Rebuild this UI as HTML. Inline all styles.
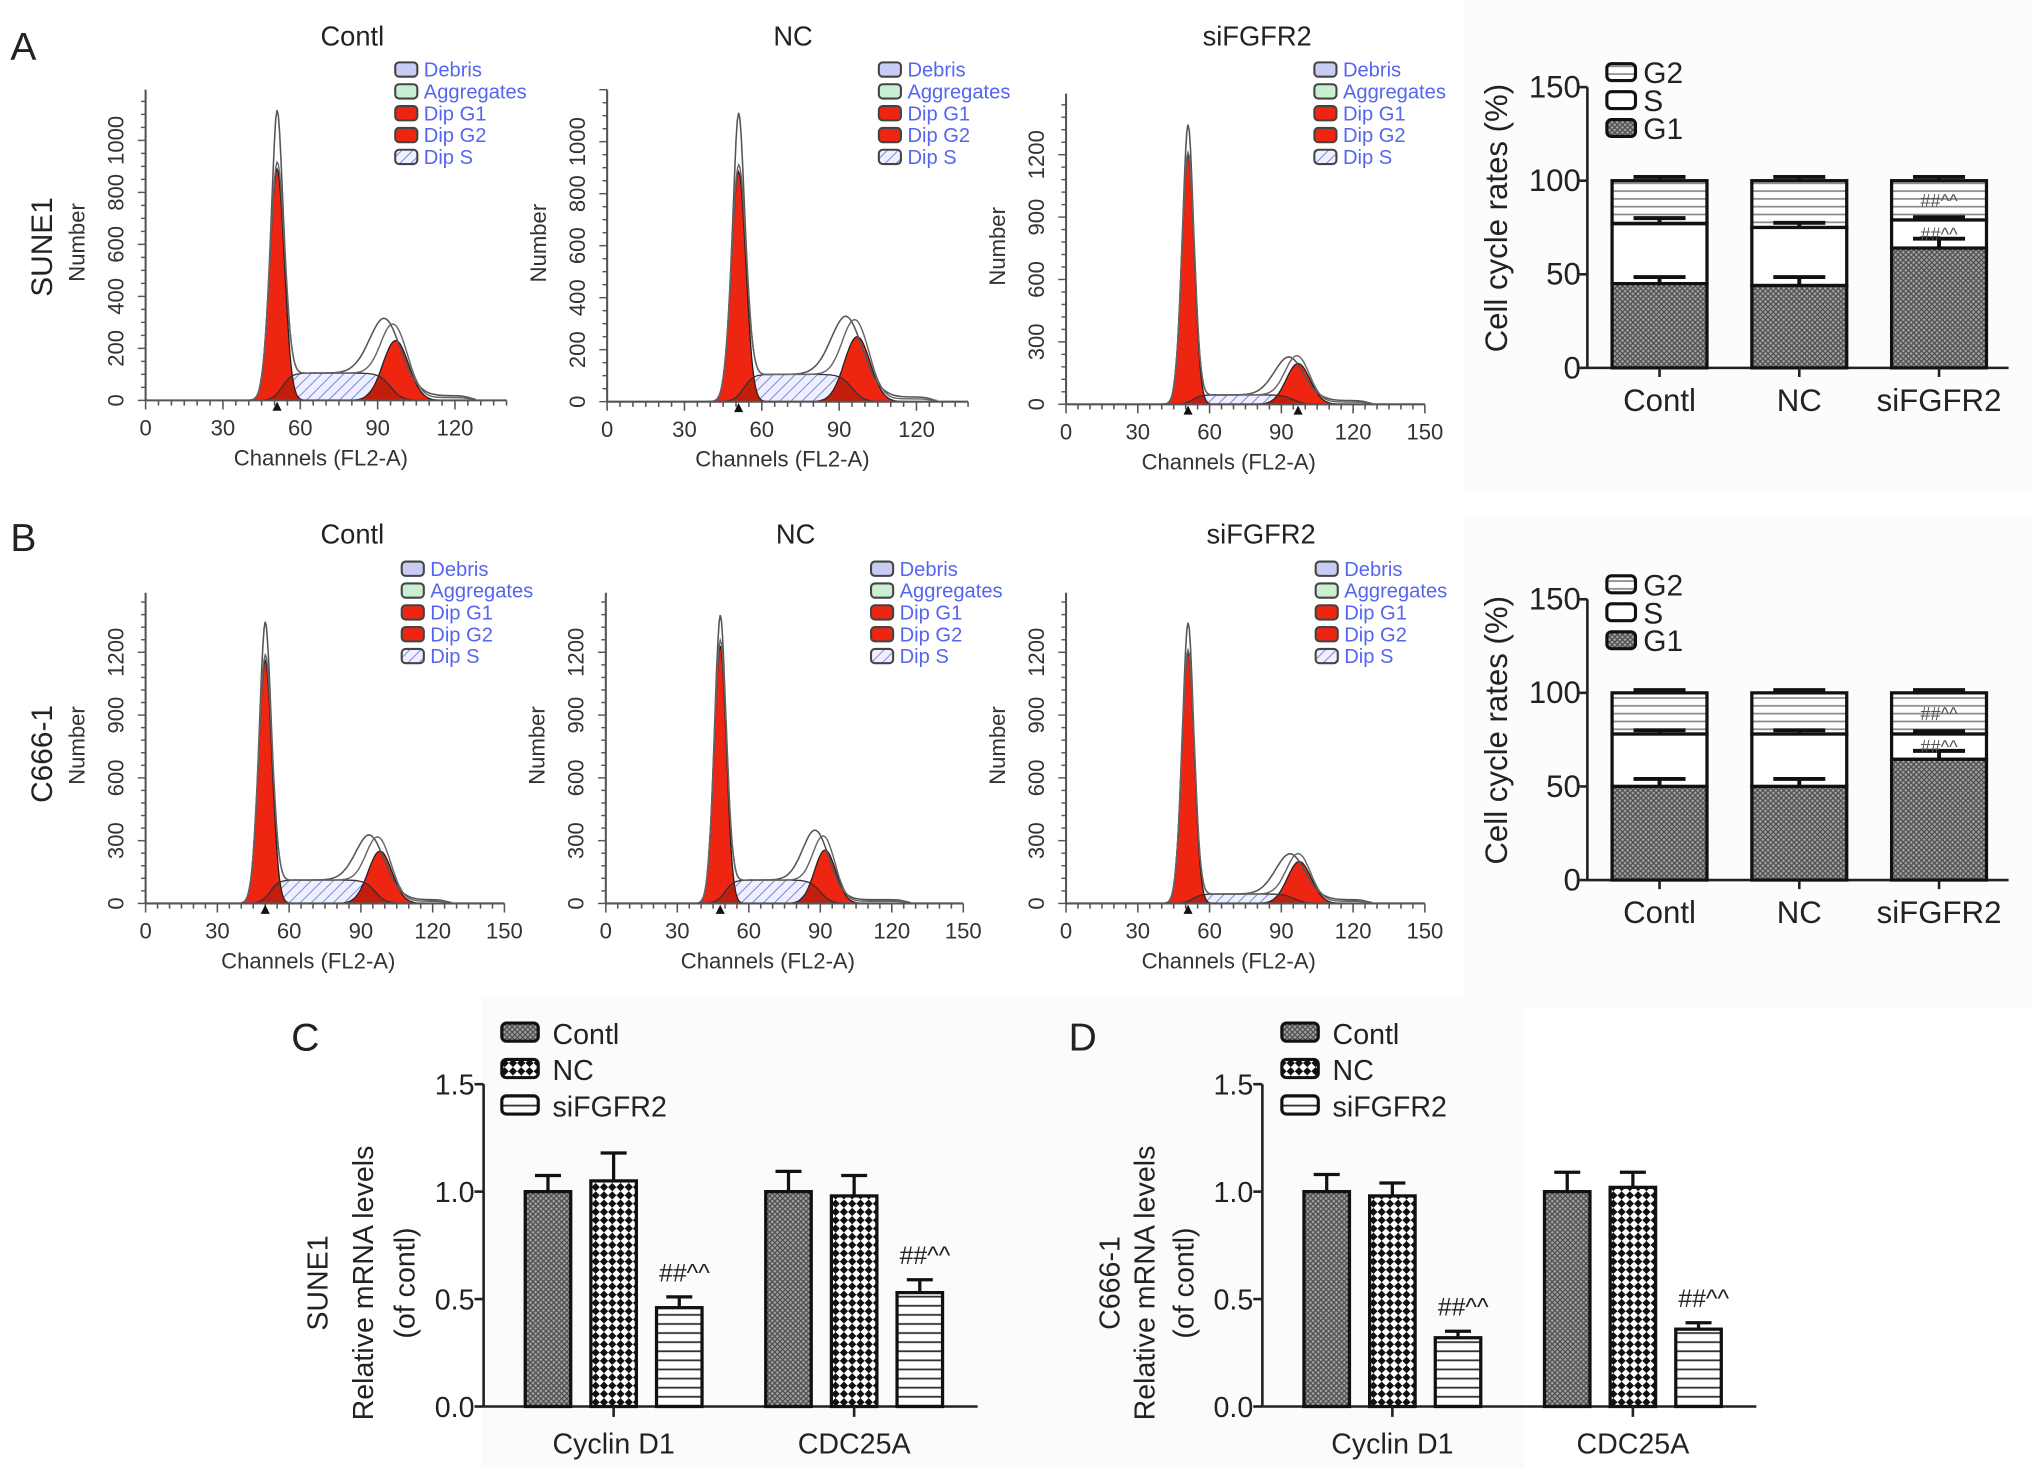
<!DOCTYPE html>
<html><head><meta charset="utf-8"><style>
html,body{margin:0;padding:0;background:#fff}
svg{display:block}
text{font-family:"Liberation Sans",Arial,sans-serif}
</style></head><body>
<svg id="fig" width="2032" height="1478" viewBox="0 0 1563 1137" preserveAspectRatio="none" xmlns="http://www.w3.org/2000/svg">
<defs>
<pattern id="pG1" width="4" height="4" patternUnits="userSpaceOnUse"><rect width="4" height="4" fill="#a0a0a0"/><path d="M0,0L4,4M4,0L0,4" stroke="#4a4a4a" stroke-width="0.9"/></pattern>
<pattern id="pNC" width="9" height="9" patternUnits="userSpaceOnUse" patternTransform="rotate(45)"><rect width="9" height="9" fill="#fff"/><rect width="4.5" height="4.5" fill="#111"/><rect x="4.5" y="4.5" width="4.5" height="4.5" fill="#111"/></pattern>
<pattern id="pStripe" width="8" height="7" patternUnits="userSpaceOnUse"><rect width="8" height="7" fill="#fff"/><line x1="0" y1="3.5" x2="8" y2="3.5" stroke="#333" stroke-width="1.4"/></pattern>
<pattern id="pStripeG" width="8" height="6" patternUnits="userSpaceOnUse"><rect width="8" height="6" fill="#fff"/><line x1="0" y1="3" x2="8" y2="3" stroke="#888" stroke-width="1.3"/></pattern>
<pattern id="pS" width="6" height="6" patternUnits="userSpaceOnUse" patternTransform="rotate(45)"><rect width="6" height="6" fill="#eef0ff"/><line x1="0" y1="0" x2="0" y2="6" stroke="#6874d8" stroke-width="1.3"/></pattern>
</defs>
<rect x="1125" y="0" width="438" height="378" fill="#fcfcfc"/>
<rect x="1125" y="395" width="438" height="380" fill="#fcfcfc"/>
<rect x="370" y="768" width="402" height="362" fill="#fbfbfb"/>
<rect x="772" y="768" width="400" height="362" fill="#fbfbfb"/>
</svg>
<script>
// ---------- histogram data (cell-cycle flow cytometry) ----------
const histTitles=['Contl','NC','siFGFR2','Contl','NC','siFGFR2'];
const g1Channel=[51,51,51,50,48,51];
const g1Fit=[890,885,1200,1160,1230,1200];
const g1Raw=[1090,1085,1333,1318,1350,1330];
const g1Width=[2.8,2.8,2.6,2.8,2.6,2.6];
const g2Channel=[97,97,97,98,92,97.5];
const g2Fit=[230,250,196,250,255,200];
const g2Raw=[295,308,220,305,330,230];
const g2Width=[5,5,5,5,4.5,5];
const sLevel=[105,105,45,112,112,45];
const xTicksA=[0,30,60,90,120];
const xTicksB=[0,30,60,90,120,150];
const yTicksA=[0,200,400,600,800,1000];
const yTicksB=[0,300,600,900,1200];
const legendItems=['Debris','Aggregates','Dip G1','Dip G2','Dip S'];
// ---------- stacked cell-cycle bars ----------
const groups=['Contl','NC','siFGFR2'];
const phases=['G2','S','G1'];
const aG1=[45,44,64], aS=[32,31,15], aG2=[23,25,21];
const aG1Err=[3.5,4.5,5], aSErr=[3,2.5,1.5], aG2Err=[2,2,2];
const bG1=[50,50,64.5], bS=[28,28,13.5], bG2=[22,22,22];
const bG1Err=[4,4,4.5], bSErr=[2,2,1.5], bG2Err=[1.5,1.5,1.5];
const stackTicks=[0,50,100,150];
// ---------- mRNA bars ----------
const genes=['Cyclin D1','CDC25A'];
const sune1Contl=[1.0,1.0], sune1NC=[1.05,0.98], sune1Si=[0.46,0.53];
const sune1ContlErr=[0.075,0.094], sune1NCErr=[0.13,0.095], sune1SiErr=[0.05,0.06];
const c666Contl=[1.0,1.0], c666NC=[0.98,1.02], c666Si=[0.32,0.36];
const c666ContlErr=[0.08,0.09], c666NCErr=[0.06,0.07], c666SiErr=[0.03,0.03];
const mrnaTicks=['0.0','0.5','1.0','1.5'];

const NS='http://www.w3.org/2000/svg';
const svg=document.getElementById('fig');
function mk(tag,attrs,parent){const e=document.createElementNS(NS,tag);for(const k in attrs)e.setAttribute(k,attrs[k]);(parent||svg).appendChild(e);return e;}
function nm(e,n){
  
  
  return e;
}
function tx(x,y,s,size,extra){const e=mk('text',Object.assign({x:x,y:y,'font-size':size,fill:'#222'},extra||{}));e.textContent=s;return e;}
function rtext(x,y,s,size,extra){const e=tx(0,0,s,size,Object.assign({'text-anchor':'middle',transform:'translate('+x+','+y+') rotate(-90)'},extra||{}));return e;}

nm(tx(8,46,'A',30),'panel-label-a');
nm(tx(8,424,'B',30),'panel-label-b');
nm(tx(224,808,'C',30),'panel-label-c');
nm(tx(822,808,'D',30),'panel-label-d');
nm(rtext(32,190,'SUNE1',23,{dy:8}),'cell-line-label-sune1');
nm(rtext(32,580,'C666-1',23,{dy:8}),'cell-line-label-c666');

const H=[
{ox:112,oy:308,ppc:1.983,xmax:140,xt:xTicksA,yt:yTicksA,ppn:0.2,ymin:50,ytop:69,tx:271,ty:27,lx:304,ly:54,tri2:false},
{ox:467,oy:309,ppc:1.983,xmax:140,xt:xTicksA,yt:yTicksA,ppn:0.2,ymin:50,ytop:69,tx:610,ty:27,lx:676,ly:54,tri2:false},
{ox:820,oy:311,ppc:1.84,xmax:150,xt:xTicksB,yt:yTicksB,ppn:0.16,ymin:60,ytop:72,tx:967,ty:27,lx:1011,ly:54,tri2:true},
{ox:112,oy:695,ppc:1.84,xmax:150,xt:xTicksB,yt:yTicksB,ppn:0.161,ymin:60,ytop:456,tx:271,ty:410,lx:309,ly:438,tri2:false},
{ox:466,oy:695,ppc:1.833,xmax:150,xt:xTicksB,yt:yTicksB,ppn:0.161,ymin:60,ytop:456,tx:612,ty:410,lx:670,ly:438,tri2:false},
{ox:820,oy:695,ppc:1.84,xmax:150,xt:xTicksB,yt:yTicksB,ppn:0.161,ymin:60,ytop:456,tx:970,ty:410,lx:1012,ly:438,tri2:false}];

function gauss(c,mu,h,sd){return h*Math.exp(-0.5*((c-mu)/sd)*((c-mu)/sd));}
function sig(z){return 1/(1+Math.exp(-z));}

H.forEach((p,k)=>{
  const g=nm(mk('g',{}),'histogram-'+(k<3?'sune1':'c666')+'-'+histTitles[k].toLowerCase());
  const X=c=>p.ox+c*p.ppc, Y=n=>p.oy-n*p.ppn;
  const m1=g1Channel[k], m2=g2Channel[k];
  const S=c=>sLevel[k]*sig((c-m1-2)/1.8)*sig((m2-2-c)/2.2);
  const G1=c=>gauss(c,m1,g1Fit[k],g1Width[k]);
  const G2=c=>gauss(c,m2,g2Fit[k],g2Width[k]);
  const cs=[];for(let c=32;c<=128;c+=0.5)cs.push(c);
  const poly=f=>{let pts=[X(cs[0])+','+p.oy];cs.forEach(c=>pts.push(X(c).toFixed(1)+','+Y(f(c)).toFixed(1)));pts.push(X(cs[cs.length-1])+','+p.oy);return pts.join(' ');};
  nm(mk('polygon',{points:poly(S),fill:'url(#pS)',stroke:'none'},g),'dip-s-area');
  nm(mk('polygon',{points:poly(G1),fill:'#ee2510',stroke:'#222','stroke-width':1},g),'dip-g1-peak');
  nm(mk('polygon',{points:poly(G2),fill:'#ee2510',stroke:'#222','stroke-width':1},g),'dip-g2-peak');
  nm(mk('polygon',{points:poly(c=>Math.min(S(c),G1(c))),fill:'#8a160c','fill-opacity':0.45},g),'g1-s-overlap');
  nm(mk('polygon',{points:poly(c=>Math.min(S(c),G2(c))),fill:'#8a160c','fill-opacity':0.45},g),'g2-s-overlap');
  const line=f=>cs.map((c,i)=>(i?'L':'M')+X(c).toFixed(1)+','+Y(f(c)).toFixed(1)).join('');
  nm(mk('path',{d:line(S),fill:'none',stroke:'#333','stroke-width':1},g),'dip-s-curve');
  const tail=c=>18*sig((c-m2-8)/2)*sig((126-c)/1.5);
  const raw=c=>S(c)+gauss(c,m1,g1Fit[k],g1Width[k])+gauss(c,m1,g1Raw[k]-g1Fit[k],g1Width[k]*0.5)+gauss(c,m2-3,g2Raw[k]-sLevel[k]*0.5,g2Width[k]*1.3)+tail(c);
  const fitSum=c=>S(c)+G1(c)+G2(c)*1.12+tail(c)*0.6;
  nm(mk('path',{d:line(raw),fill:'none',stroke:'#555','stroke-width':1.2},g),'raw-histogram-outline');
  nm(mk('path',{d:line(fitSum),fill:'none',stroke:'#666','stroke-width':1.1},g),'model-fit-outline');
  nm(mk('line',{x1:p.ox,y1:p.oy,x2:X(p.xmax),y2:p.oy,stroke:'#555','stroke-width':1.6},g),'x-axis');
  nm(mk('line',{x1:p.ox,y1:p.oy,x2:p.ox,y2:p.ytop,stroke:'#555','stroke-width':1.6},g),'y-axis');
  for(let c=0;c<=p.xmax;c+=5){mk('line',{x1:X(c),y1:p.oy,x2:X(c),y2:p.oy+(c%30===0?7:4),stroke:'#555','stroke-width':1.2},g);}
  p.xt.forEach(v=>nm(tx(X(v),p.oy+27,String(v),17,{'text-anchor':'middle',fill:'#333'}),'x-tick-label'));
  const ymaxN=(p.oy-p.ytop)/p.ppn;
  for(let n=0;n<=ymaxN;n+=p.ymin){mk('line',{x1:p.ox,y1:Y(n),x2:p.ox-(n%(p.yt[1])===0?6:3.5),y2:Y(n),stroke:'#555','stroke-width':1.1},g);}
  p.yt.forEach(v=>nm(rtext(p.ox-17,Y(v),String(v),17,{fill:'#333'}),'y-tick-label'));
  nm(rtext(p.ox-47,(p.oy+p.ytop)/2-2,'Number',17,{fill:'#333'}),'y-axis-title');
  nm(tx(X(68),p.oy+50,'Channels (FL2-A)',17,{'text-anchor':'middle',fill:'#333'}),'x-axis-title');
  nm(tx(p.tx,p.ty+8,histTitles[k],21,{'text-anchor':'middle'}),'histogram-title');
  const tris=[m1];if(p.tri2)tris.push(m2);
  tris.forEach(c=>nm(mk('polygon',{points:(X(c)-3.5)+','+(p.oy+8)+' '+(X(c)+3.5)+','+(p.oy+8)+' '+X(c)+','+(p.oy+1),fill:'#111'},g),'peak-marker'));
  const fills=['#c8cbf2','#c9efd2','#ee2510','#ee2510','url(#pS)'];
  legendItems.forEach((s,i)=>{
    const y=p.ly+i*16.8;
    nm(mk('rect',{x:p.lx,y:y-6,width:17,height:11,rx:3,fill:fills[i],stroke:'#444','stroke-width':1.6},g),'legend-swatch');
    nm(tx(p.lx+22,y+5,s,15.5,{fill:'#5566ee'}),'legend-entry');
  });
});

function stacked(oy,G1v,Sv,G2v,G1e,Se,G2e,tag){
  const g=nm(mk('g',{}),'cell-cycle-stacked-chart-'+tag);
  const ox=1221,pp=1.44,Y=v=>oy-v*pp;
  nm(mk('line',{x1:ox,y1:oy,x2:1545,y2:oy,stroke:'#222','stroke-width':2},g),'x-axis');
  nm(mk('line',{x1:ox,y1:oy,x2:ox,y2:Y(150),stroke:'#222','stroke-width':2},g),'y-axis');
  stackTicks.forEach(v=>{mk('line',{x1:ox-6,y1:Y(v),x2:ox,y2:Y(v),stroke:'#222','stroke-width':2},g);nm(tx(ox-5,Y(v)+8,String(v),24,{'text-anchor':'end'}),'y-tick-label');});
  nm(rtext(1159,Y(80),'Cell cycle rates (%)',24),'y-axis-title');
  groups.forEach((gr,i)=>{
    const x=1240+i*107.5,w=73,cx=x+w/2;
    const t1=G1v[i],t2=G1v[i]+Sv[i],t3=G1v[i]+Sv[i]+G2v[i];
    nm(mk('rect',{x:x,y:Y(t3),width:w,height:Y(t2)-Y(t3),fill:'url(#pStripeG)',stroke:'#111','stroke-width':2.5},g),'bar-g2-'+gr);
    nm(mk('rect',{x:x,y:Y(t2),width:w,height:Y(t1)-Y(t2),fill:'#fff',stroke:'#111','stroke-width':2.5},g),'bar-s-'+gr);
    nm(mk('rect',{x:x,y:Y(t1),width:w,height:oy-Y(t1),fill:'url(#pG1)',stroke:'#111','stroke-width':2.5},g),'bar-g1-'+gr);
    [[t1,G1e[i]],[t2,Se[i]],[t3,G2e[i]]].forEach(([t,e])=>{
      nm(mk('path',{d:'M'+cx+','+Y(t)+'V'+Y(t+e)+'M'+(cx-20)+','+Y(t+e)+'H'+(cx+20),stroke:'#111','stroke-width':3,fill:'none'},g),'error-bar');
    });
    mk('line',{x1:cx,y1:oy,x2:cx,y2:oy+7,stroke:'#222','stroke-width':2},g);
    nm(tx(cx,oy+33,gr,24,{'text-anchor':'middle'}),'x-tick-label');
    if(i===2){
      nm(tx(cx,Y((t2+t3)/2)+5,'##^^',14,{'text-anchor':'middle',fill:'#555'}),'significance-mark-g2');
      nm(tx(cx,Y((t1+t2)/2)+5,'##^^',14,{'text-anchor':'middle',fill:'#555'}),'significance-mark-s');
    }
  });
  const lf=['url(#pStripeG)','#fff','url(#pG1)'];
  phases.forEach((ph,i)=>{const y=Y(150)-12+i*21.5;
    nm(mk('rect',{x:1236,y:y-6,width:22,height:13,rx:3.5,fill:lf[i],stroke:'#111','stroke-width':2.4},g),'legend-swatch');
    nm(tx(1264,y+9,ph,23),'legend-entry');});
}
stacked(283,aG1,aS,aG2,aG1Err,aSErr,aG2Err,'sune1');
stacked(677,bG1,bS,bG2,bG1Err,bSErr,bG2Err,'c666');

function mrna(ox,Cv,Nv,Sv,Ce,Ne,Se,tag,titles,lx){
  const g=nm(mk('g',{}),'mrna-chart-'+tag);
  const oy=1082,pp=165.3,Y=v=>oy-v*pp;
  nm(mk('line',{x1:ox,y1:oy,x2:ox+380,y2:oy,stroke:'#222','stroke-width':2},g),'x-axis');
  nm(mk('line',{x1:ox,y1:oy,x2:ox,y2:Y(1.5),stroke:'#222','stroke-width':2},g),'y-axis');
  mrnaTicks.forEach(s=>{const v=parseFloat(s);mk('line',{x1:ox-7,y1:Y(v),x2:ox,y2:Y(v),stroke:'#222','stroke-width':2},g);nm(tx(ox-7,Y(v)+8,s,22,{'text-anchor':'end'}),'y-tick-label');});
  const fills=['url(#pG1)','url(#pNC)','url(#pStripe)'];
  const vals=[Cv,Nv,Sv],errs=[Ce,Ne,Se];
  genes.forEach((gn,gi)=>{
    groups.forEach((gr,si)=>{
      const x=ox+32+gi*185+si*50.5,w=35,v=vals[si][gi],e=errs[si][gi],cx=x+w/2;
      nm(mk('path',{d:'M'+cx+','+Y(v)+'V'+Y(v+e)+'M'+(cx-10)+','+Y(v+e)+'H'+(cx+10),stroke:'#111','stroke-width':2.5,fill:'none'},g),'error-bar');
      nm(mk('rect',{x:x,y:Y(v),width:w,height:oy-Y(v),fill:fills[si],stroke:'#111','stroke-width':2.5},g),'bar-'+gn.toLowerCase().replace(' ','-')+'-'+gr.toLowerCase());
      if(si===2)nm(tx(cx+4,Y(v+e)-12,'##^^',19,{'text-anchor':'middle'}),'significance-mark');
    });
    const gc=ox+100+gi*185;
    mk('line',{x1:gc,y1:oy,x2:gc,y2:oy+8,stroke:'#222','stroke-width':2},g);
    nm(tx(gc,oy+36,gn,22,{'text-anchor':'middle'}),'x-tick-label');
  });
  nm(rtext(titles[0],987,tag==='sune1'?'SUNE1':'C666-1',22,{dy:8}),'y-axis-title-cell');
  nm(rtext(titles[1],987,'Relative mRNA levels',22,{dy:8}),'y-axis-title');
  nm(rtext(titles[2],987,'(of contl)',22,{dy:8}),'y-axis-title-unit');
  groups.forEach((gr,i)=>{const y=794+i*28;
    nm(mk('rect',{x:lx,y:y-7,width:28,height:14,rx:3.5,fill:fills[i],stroke:'#111','stroke-width':2.4},g),'legend-swatch');
    nm(tx(lx+39,y+9,gr,22),'legend-entry');});
}
mrna(372,sune1Contl,sune1NC,sune1Si,sune1ContlErr,sune1NCErr,sune1SiErr,'sune1',[244,279,311],386);
mrna(971,c666Contl,c666NC,c666Si,c666ContlErr,c666NCErr,c666SiErr,'c666',[853,880,910],986);
</script>
</body></html>
